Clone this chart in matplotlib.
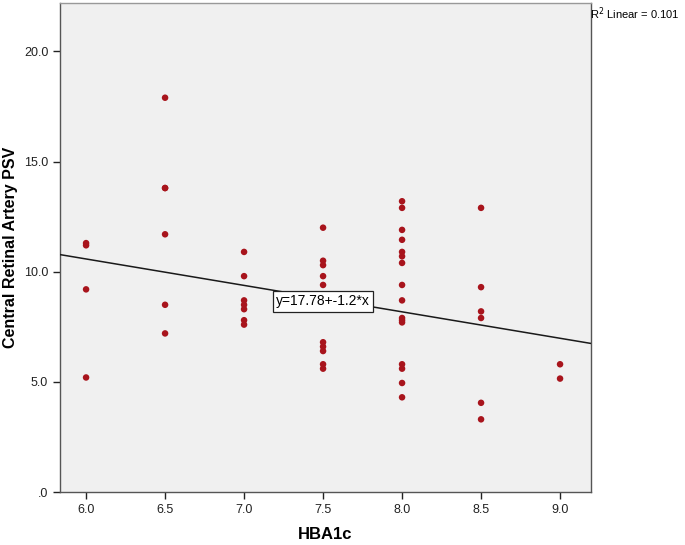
import matplotlib.pyplot as plt
import numpy as np

plt.rcParams['font.family'] = ['Liberation Sans', 'DejaVu Sans']

# HBA1c groups and the PSV readings in each
hba1c_levels = [6.0, 6.5, 7.0, 7.5, 8.0, 8.5, 9.0]
psv_by_level = [
    [11.3, 11.2, 9.2, 5.2],
    [17.9, 13.8, 13.8, 11.7, 8.5, 7.2],
    [10.9, 9.8, 8.7, 8.5, 8.3, 7.8, 7.6],
    [12.0, 10.5, 10.3, 9.8, 9.4, 8.8, 8.6, 6.8, 6.6, 6.4, 5.8, 5.6],
    [13.2, 12.9, 11.9, 11.45, 10.9, 10.7, 10.4, 9.4, 8.7, 7.9, 7.8, 7.7, 5.8, 5.6, 4.95, 4.3],
    [12.9, 9.3, 8.2, 7.9, 4.05, 3.3],
    [5.8, 5.15],
]
intercept = 17.78
slope = -1.2
r_squared = 0.101

x = np.concatenate([[lv] * len(v) for lv, v in zip(hba1c_levels, psv_by_level)])
y = np.concatenate(psv_by_level)

fig = plt.figure(figsize=(6.85, 5.45), dpi=100)
ax = fig.add_axes([0.0876, 0.0972, 0.7752, 0.8973])
ax.set_facecolor('#f0f0f0')

ax.scatter(x, y, s=22, color='#a8141c', edgecolors='none', zorder=2)

xlim = (5.835, 9.196)
xs = np.array(xlim)
ax.plot(xs, intercept + slope * xs, color='#1a1a1a', lw=1.1, zorder=3)

ax.text(7.5, intercept + slope * 7.5 - 0.12, 'y=17.78+-1.2*x', fontsize=10,
        ha='center', va='center', zorder=4,
        bbox=dict(boxstyle='square,pad=0.25', fc='white', ec='#222222', lw=0.9))

ax.set_xlim(*xlim)
ax.set_ylim(0, 22.2)
ax.set_xticks(hba1c_levels)
ax.set_xticklabels(['%.1f' % v for v in hba1c_levels])
ax.set_yticks([0, 5, 10, 15, 20])
ax.set_yticklabels(['.0', '5.0', '10.0', '15.0', '20.0'])
ax.tick_params(direction='out', length=5, width=1, labelsize=9, colors='#222222')

for s in ax.spines.values():
    s.set_color('#555555')
    s.set_linewidth(1)
ax.spines['top'].set_color('#999999')

ax.set_xlabel('HBA1c', fontsize=12, fontweight='bold', labelpad=8)
ax.set_ylabel('Central Retinal Artery PSV', fontsize=11.5, fontweight='bold', labelpad=4)

fig.text(0.862, 0.975, 'R$^2$ Linear = %.3f' % r_squared, fontsize=8, ha='left', va='center')

fig.savefig('out.png', dpi=100)
